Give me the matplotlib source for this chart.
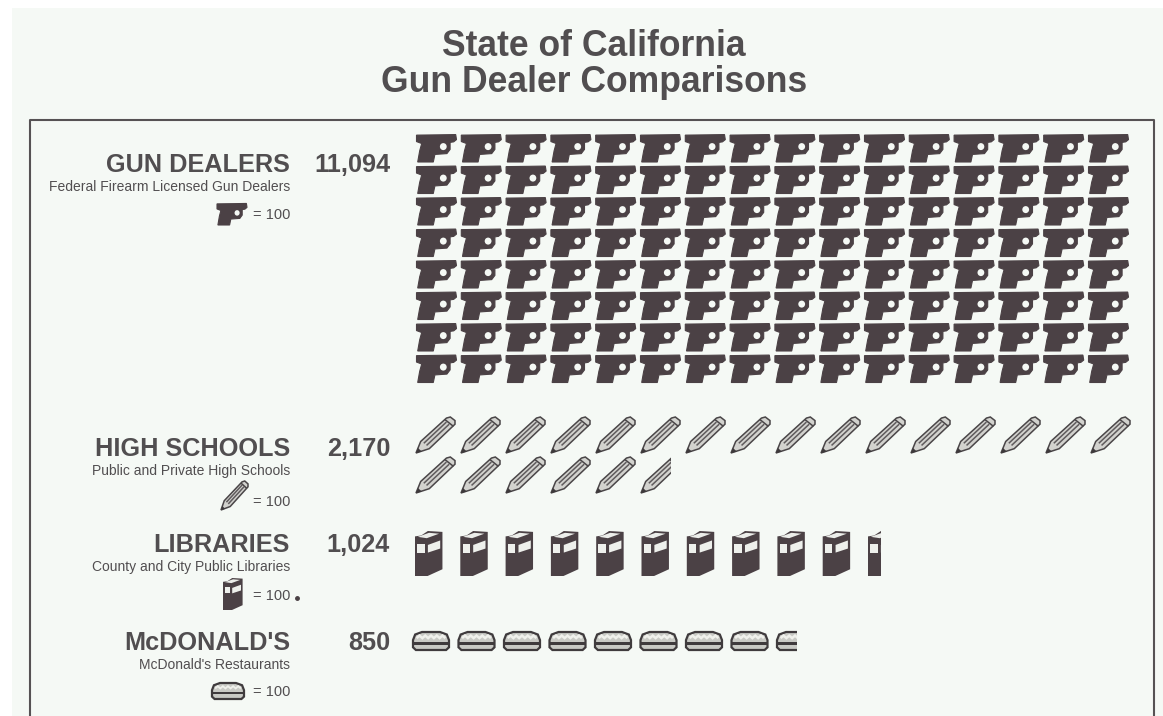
import matplotlib
matplotlib.use("Agg")
import matplotlib.pyplot as plt
from matplotlib.patches import PathPatch, Rectangle, Ellipse
from matplotlib.path import Path
from matplotlib.transforms import Affine2D

plt.rcParams["font.family"] = ["Liberation Sans", "DejaVu Sans"]

labels = ["GUN DEALERS", "HIGH SCHOOLS", "LIBRARIES", "McDONALD'S"]
subtitles = ["Federal Firearm Licensed Gun Dealers", "Public and Private High Schools",
             "County and City Public Libraries", "McDonald's Restaurants"]
value_labels = ["11,094", "2,170", "1,024", "850"]
# how many icons the picture really shows (the gun block is a full 16 x 8)
icons_drawn = [128, 21.78, 10.46, 8.55]
kinds = ["gun", "pencil", "book", "burger"]

DARK = "#4b4145"
TEXT = "#514e50"
PAPER = "#f5f9f5"

# icon shapes, drawn in a 0-1 box with y going down
GUN = [(0.0, 0.04), (0.55, 0.03), (0.98, 0.02), (1.0, 0.2), (0.93, 0.28), (0.84, 0.3), (0.84, 0.55),
       (0.76, 0.7), (0.46, 0.73), (0.42, 1.0), (0.03, 1.0), (0.08, 0.6), (0.13, 0.34), (0.0, 0.27)]
PENCIL_BODY = [(0.0, 1.0), (0.12, 0.68), (0.78, 0.03), (0.88, 0.0), (1.0, 0.1), (1.0, 0.2),
               (0.34, 0.88)]
PENCIL_TIP = [(0.0, 1.0), (0.05, 0.86), (0.15, 0.96)]
PENCIL_LINES = [[(0.2, 0.73), (0.78, 0.14)], [(0.27, 0.79), (0.85, 0.2)]]
PENCIL_BAND = [(0.74, 0.07), (0.96, 0.26)]
BOOK_BODY = [(0.0, 0.12), (0.22, 0.1), (0.46, 0.0), (0.98, 0.02), (0.98, 0.85), (0.45, 1.0), (0.0, 1.0)]
BOOK_TOP = [(0.1, 0.13), (0.5, 0.04), (0.86, 0.06), (0.42, 0.16)]
BOOK_WIN1 = [(0.08, 0.29), (0.34, 0.29), (0.34, 0.48), (0.08, 0.48)]
BOOK_WIN2 = [(0.46, 0.31), (0.9, 0.21), (0.9, 0.39), (0.46, 0.48)]
BURGER_OUT = [(0.0, 0.45), (0.06, 0.14), (0.25, 0.0), (0.75, 0.0), (0.94, 0.14), (1.0, 0.45),
              (1.0, 0.85), (0.92, 1.0), (0.08, 1.0), (0.0, 0.85)]
BURGER_MEAT = [(0.0, 0.54), (1.0, 0.54), (1.0, 0.7), (0.0, 0.7)]
BURGER_SEEDS = [(0.1, 0.34), (0.18, 0.2), (0.26, 0.34), (0.34, 0.2), (0.42, 0.34), (0.5, 0.2), (0.58, 0.34),
                (0.66, 0.2), (0.74, 0.34), (0.82, 0.2), (0.9, 0.34)]


def draw_shape(ax, pts, tf, clip, face=DARK, edge="none", lw=0.0, closed=True):
    if closed:
        codes = [Path.MOVETO] + [Path.LINETO] * (len(pts) - 1) + [Path.CLOSEPOLY]
        path = Path(pts + [pts[0]], codes)
    else:
        path = Path(pts)
        face = "none"
    patch = PathPatch(path, facecolor=face, edgecolor=edge, linewidth=lw, transform=tf + ax.transData)
    ax.add_patch(patch)
    if clip is not None:
        patch.set_clip_path(clip)
    return patch


def draw_icon(ax, kind, x, y, w, h, frac=1.0):
    tf = Affine2D().scale(w, h).translate(x, y)
    clip = None
    if frac < 1.0:
        clip = Rectangle((x - 2, y - 2), w * frac + 2, h + 4, transform=ax.transData)
    small = w < 36
    if kind == "gun":
        draw_shape(ax, GUN, tf, clip, edge=DARK, lw=0.8)
        ax.add_patch(Ellipse((x + 0.67 * w, y + 0.45 * h), 0.17 * w, 0.25 * h,
                             facecolor=PAPER, edgecolor="none"))
    elif kind == "pencil":
        draw_shape(ax, PENCIL_BODY, tf, clip, face="#d2d2ce", edge="#4a4648", lw=1.1)
        draw_shape(ax, PENCIL_TIP, tf, clip, face="#3d393b")
        for line in PENCIL_LINES:
            draw_shape(ax, line, tf, clip, edge="#5f5b5d", lw=1.1, closed=False)
        draw_shape(ax, PENCIL_BAND, tf, clip, edge="#4a4648", lw=1.1, closed=False)
    elif kind == "book":
        draw_shape(ax, BOOK_BODY, tf, clip)
        draw_shape(ax, BOOK_TOP, tf, clip, face="#eceeea")
        draw_shape(ax, BOOK_WIN1, tf, clip, face="#eef0ec")
        draw_shape(ax, BOOK_WIN2, tf, clip, face="#eef0ec")
    elif kind == "burger":
        draw_shape(ax, BURGER_OUT, tf, clip, face="#c9cac5", edge="#3f3b3d", lw=1.6)
        draw_shape(ax, BURGER_MEAT, tf, clip, face="#3f3b3d")
        draw_shape(ax, BURGER_SEEDS, tf, clip, edge="#f0f1ec", lw=1.8 if not small else 1.3, closed=False)


fig = plt.figure(figsize=(11.63, 7.16), dpi=100, facecolor="white")
ax = fig.add_axes([0, 0, 1, 1])
ax.set_xlim(0, 1163)
ax.set_ylim(716, 0)
ax.axis("off")

# scanned paper sits a little in from the top left corner
ax.add_patch(Rectangle((12, 8), 1151, 708, facecolor=PAPER, edgecolor="none"))
ax.plot([30, 30, 1154, 1154], [716, 119.5, 119.5, 716], color="#565254", lw=1.5)

ax.text(594, 47, "State of California", ha="center", va="center", fontsize=25.6, fontweight="bold", color=TEXT)
ax.text(594, 82, "Gun Dealer Comparisons", ha="center", va="center", fontsize=25.6, fontweight="bold", color=TEXT)

# layout per row: label y, icon box w/h, row and column steps
label_y = [165, 449, 545, 643]
key_text_y = [215, 502, 596, 692]
start_x = [416.5, 416, 415, 413]
start_y = [134, 417, 531, 632]
icon_w = [40, 39, 28, 36]
icon_h = [28, 36, 45, 18]
step_y = [31.5, 40, 0, 0]
step_x = [44.8, 45, 45.3, 45.5]
key_box = [(217, 203, 30, 22), (221, 481, 27, 29), (223, 578, 20, 32), (212, 683, 32, 16)]
per_row = 16

for i, label in enumerate(labels):
    y = label_y[i]
    ax.text(290, y, label, ha="right", va="center", fontsize=18.2, fontweight="bold", color=TEXT)
    ax.text(390, y, value_labels[i], ha="right", va="center", fontsize=18.2, fontweight="bold", color=TEXT)
    ax.text(290, y + 22, subtitles[i], ha="right", va="center", fontsize=10, color=TEXT)
    kx, ky, kw, kh = key_box[i]
    draw_icon(ax, kinds[i], kx, ky, kw, kh)
    ax.text(290, key_text_y[i], "= 100", ha="right", va="center", fontsize=10.5, color=TEXT)

    n = 0
    while n < icons_drawn[i]:
        frac = min(1.0, icons_drawn[i] - n)
        col = n % per_row
        row = n // per_row
        draw_icon(ax, kinds[i], start_x[i] + col * step_x[i], start_y[i] + row * step_y[i],
                  icon_w[i], icon_h[i], frac)
        n += 1

# stray speck on the scan, next to the library key
ax.plot([297], [598], marker="o", ms=2.5, color="#4b4145")

fig.savefig("out.png", dpi=100, facecolor=fig.get_facecolor())
